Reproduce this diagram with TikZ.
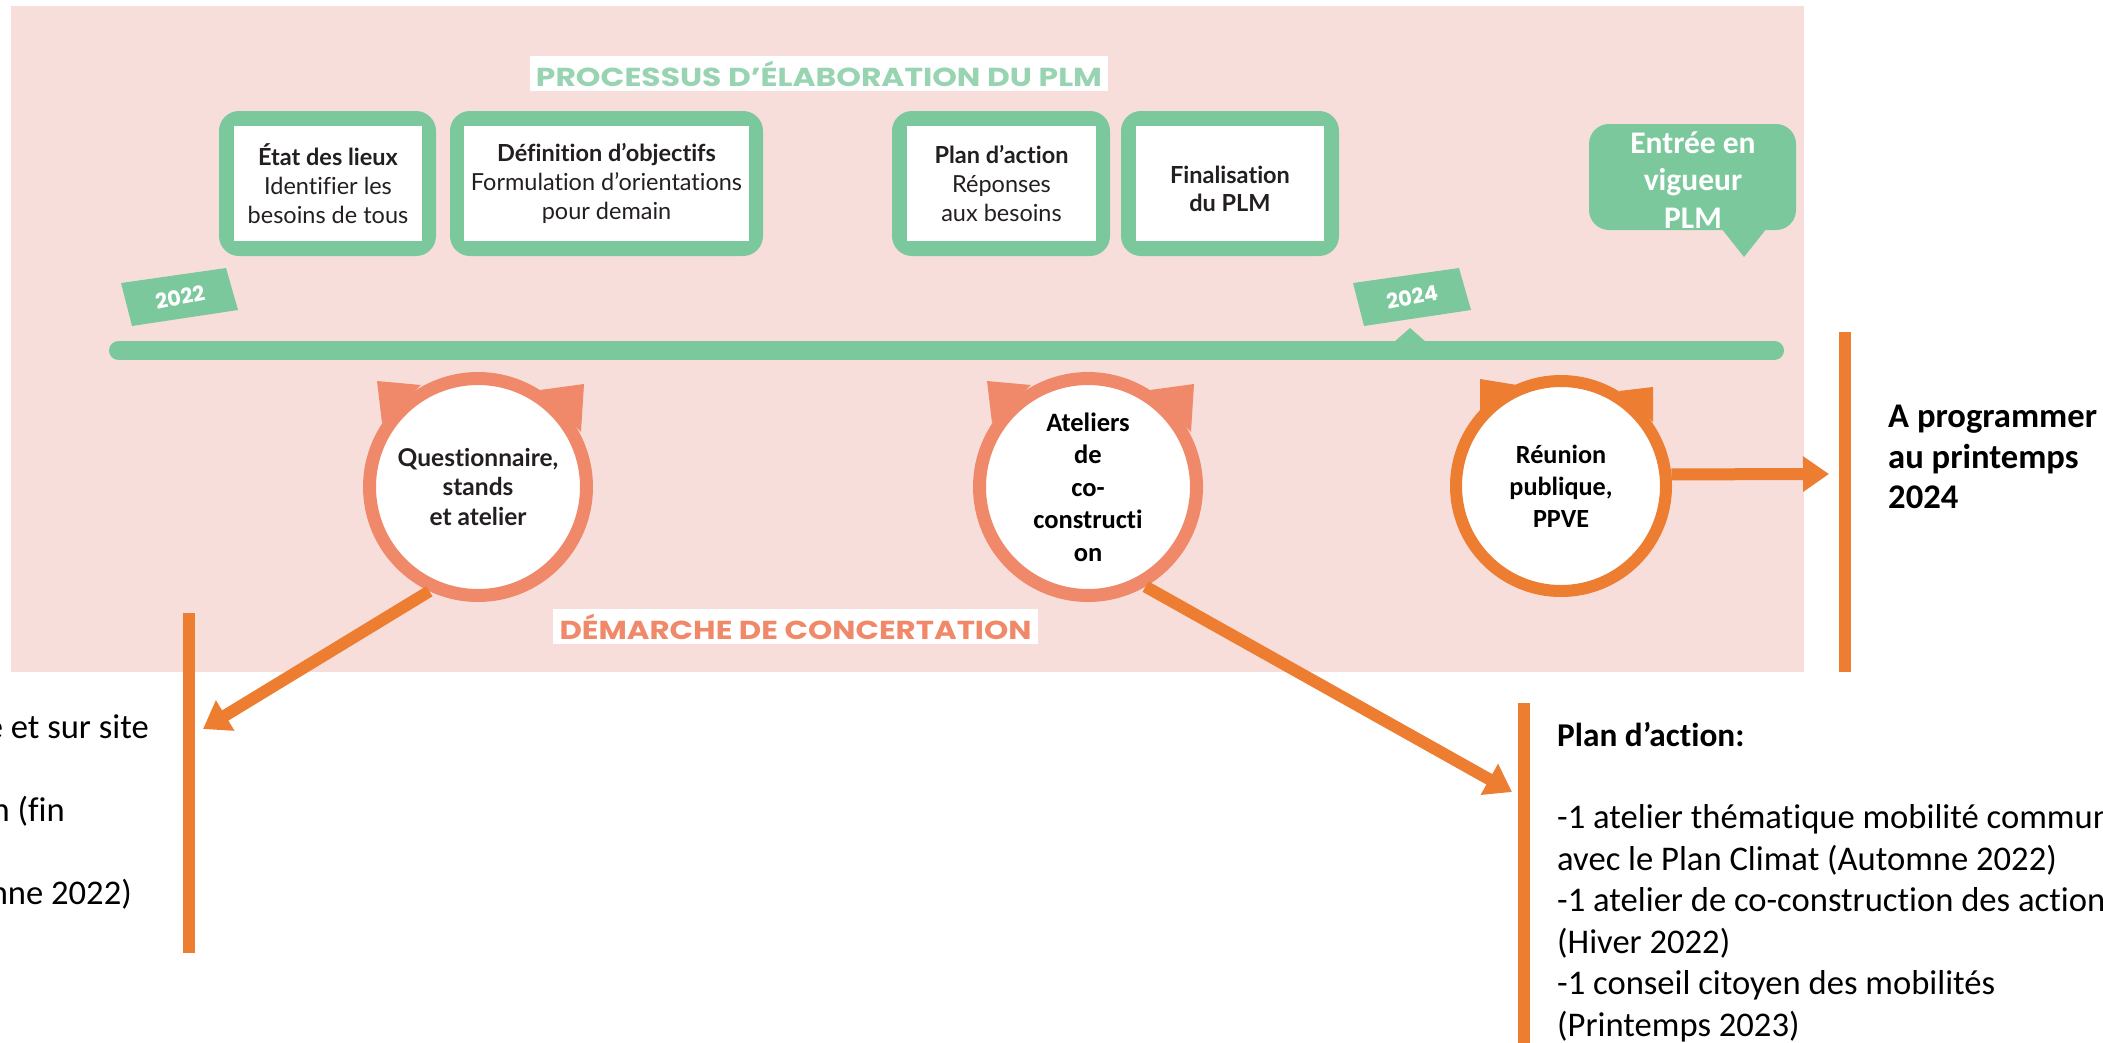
\documentclass[tikz,border=0pt]{standalone}
\usepackage{fontspec}
\usepackage{graphicx}
\setmainfont{Carlito}[Ligatures={TeX,NoCommon}]
\newfontfamily\lato{Lato}[Ligatures={TeX,NoCommon}]
\newfontfamily\popp{Poppins}
\usetikzlibrary{arrows.meta,calc}
\definecolor{pinkbg}{RGB}{248,222,219}
\definecolor{plmgreen}{RGB}{123,200,156}
\definecolor{titlegreen}{RGB}{152,212,177}
\definecolor{salmon}{RGB}{240,137,105}
\definecolor{orng}{RGB}{237,125,49}
\definecolor{ink}{RGB}{35,31,32}
\tikzset{
  ears/.pic={
    \fill (-101,-106) -- (-57,-102) -- (-96,-64) -- cycle;
    \fill (106,-103) -- (62,-97) -- (103,-55) -- cycle;
  },
  earsb/.pic={
    \fill (-81,-107) -- (-44,-101) -- (-81,-74) -- cycle;
    \fill (92,-99) -- (58,-95) -- (92,-64) -- cycle;
  }
}
\begin{document}
\begin{tikzpicture}[x=1pt,y=-1pt,
  frame/.style={fill=plmgreen, rounded corners=20pt, inner sep=0pt},
  card/.style={fill=white, inner sep=0pt},
  cardtxt/.style={inner sep=0pt, align=center, text=ink,
    font=\lato\fontsize{23.5}{29.3}\selectfont},
  ring/.style={circle, draw=salmon, fill=white, line width=13pt,
    minimum size=217pt, inner sep=0pt, align=center},
  ringb/.style={circle, draw=orng, fill=white, line width=12pt,
    minimum size=210pt, inner sep=0pt, align=center},
  arr/.style={draw=orng, line width=12pt, -{Triangle[width=34pt,length=26pt]}},
  bar/.style={fill=orng},
  tagtxt/.style={text=white, font=\popp\bfseries\fontsize{21}{23}\selectfont, rotate=11, inner sep=0pt},
  body/.style={text=black, font=\fontsize{34.6}{41.5}\selectfont, inner sep=0pt},
  bodyb/.style={text=black, font=\bfseries\fontsize{33.3}{41.5}\selectfont, inner sep=0pt},
  bodybb/.style={text=black, font=\bfseries\fontsize{34.6}{41}\selectfont, inner sep=0pt}
]
\useasboundingbox (0,0) rectangle (2103,1042);
\fill[white] (0,0) rectangle (2103,1042);
\fill[pinkbg] (10.5,6) rectangle (1804,672);

% title
\node[fill=white, minimum width=578pt, minimum height=35pt, inner sep=0pt,
  text=titlegreen, font=\popp\bfseries\fontsize{26}{28}\selectfont]
  (ttl) at (819,73.5) {\resizebox{566pt}{\height}{PROCESSUS D’ÉLABORATION DU PLM}};

% timeline
\draw[plmgreen, line width=19pt, line cap=round] (118.5,350.5) -- (1774.5,350.5);
\fill[plmgreen] (1394,342) -- (1410,328) -- (1426,342) -- cycle;

% year tags
\fill[plmgreen] (121,283) -- (226,268) -- (238,310) -- (132,326) -- cycle;
\node[tagtxt] (y22) at (180,297) {2022};
\fill[plmgreen] (1353,283) -- (1459,268) -- (1471,310) -- (1364,326) -- cycle;
\node[tagtxt] (y24) at (1412,297) {2024};

% process boxes
\node[frame, minimum width=217pt, minimum height=145pt] (f1) at (327.5,183.5) {};
\node[card, minimum width=188pt, minimum height=115pt] (b1) at (328,183.5) {};
\node[cardtxt] (t1) at (b1.center) {{\bfseries État des lieux}\\Identifier les\\besoins de tous};
\node[frame, minimum width=313pt, minimum height=145pt] (f2) at (606.5,183.5) {};
\node[card, minimum width=285pt, minimum height=115pt] (b2) at (606.5,183.5) {};
\node[cardtxt] (t2) at (b2.center) {{\bfseries Définition d’objectifs}\\Formulation d’orientations\\pour demain};
\node[frame, minimum width=218pt, minimum height=145pt] (f3) at (1001,183.5) {};
\node[card, minimum width=189pt, minimum height=115pt] (b3) at (1001.5,183.5) {};
\node[cardtxt] (t3) at (b3.center) {{\bfseries Plan d’action}\\Réponses\\aux besoins};
\node[frame, minimum width=218pt, minimum height=145pt] (f4) at (1230,183.5) {};
\node[card, minimum width=188pt, minimum height=115pt] (b4) at (1230,183.5) {};
\node[cardtxt, font=\lato\bfseries\fontsize{23.5}{28}\selectfont] (t4) at (1230,189) {Finalisation\\du PLM};

% callout
\node[fill=plmgreen, rounded corners=20pt, minimum width=207pt, minimum height=106pt, inner sep=0pt] (entree) at (1692.5,177) {};
\fill[plmgreen] (1721,228) -- (1767,228) -- (1744,257) -- cycle;
\node[text=white, align=center, inner sep=0pt, font=\bfseries\fontsize{31.5}{37.5}\selectfont] (entreet) at (1693,180) {Entrée en\\vigueur\\PLM};

% concertation circles
\pic[color=salmon] at (478,487) {ears};
\pic[color=salmon] at (1088,487) {ears};
\pic[color=orng] at (1561,486) {earsb};
\node[ring, text=ink, font=\lato\bfseries\fontsize{24.5}{29.5}\selectfont] (c1) at (478,487)
  {Questionnaire,\\stands\\et atelier};
\node[ring, font=\bfseries\fontsize{26.5}{32.5}\selectfont] (c2) at (1088,487)
  {Ateliers\\de\\co-\\constructi\\on};
\node[ringb, font=\bfseries\fontsize{26.2}{32}\selectfont] (c3) at (1561,486)
  {Réunion\\publique,\\PPVE};

\node[fill=white, minimum width=485pt, minimum height=35pt, inner sep=0pt,
  text=salmon, font=\popp\bfseries\fontsize{26}{28}\selectfont]
  (dem) at (795.5,626.5) {\resizebox{472pt}{\height}{DÉMARCHE DE CONCERTATION}};

% side bars
\fill[bar] (183,613) rectangle (195,953);
\fill[bar] (1839,332) rectangle (1851,672);
\fill[bar] (1518,703) rectangle (1530,1045);

% arrows
\coordinate (tipL) at (203,729);
\coordinate (tipR) at (1512,792);
\coordinate (tipA) at (1829,474);
\draw[arr] (c1.245) -- (tipL);
\draw[arr] (c2.300) -- (tipR);
\draw[arr] (c3.6) -- (tipA);

% texts
\node[bodybb, anchor=base west] (p1) at (1888,427) {A programmer};
\node[bodybb, anchor=base west] (p2) at (1888,468) {au printemps};
\node[bodybb, anchor=base west] (p3) at (1888,508) {2024};

\node[body, anchor=base east] (l1) at (149,738) {e et sur site};
\node[body, anchor=base east] (l2) at (65,821) {n (fin};
\node[body, anchor=base east] (l3) at (132,904) {nne 2022)};

\node[bodyb, anchor=base west] (r0) at (1557,746) {Plan d’action:};
\node[body, anchor=base west] (r1) at (1557,828.5) {-1 atelier thématique mobilité commun};
\node[body, anchor=base west] (r2) at (1557,870) {avec le Plan Climat (Automne 2022)};
\node[body, anchor=base west] (r3) at (1557,911.5) {-1 atelier de co-construction des action};
\node[body, anchor=base west] (r4) at (1557,953) {(Hiver 2022)};
\node[body, anchor=base west] (r5) at (1557,994.5) {-1 conseil citoyen des mobilités};
\node[body, anchor=base west] (r6) at (1557,1036) {(Printemps 2023)};
\end{tikzpicture}
\end{document}
